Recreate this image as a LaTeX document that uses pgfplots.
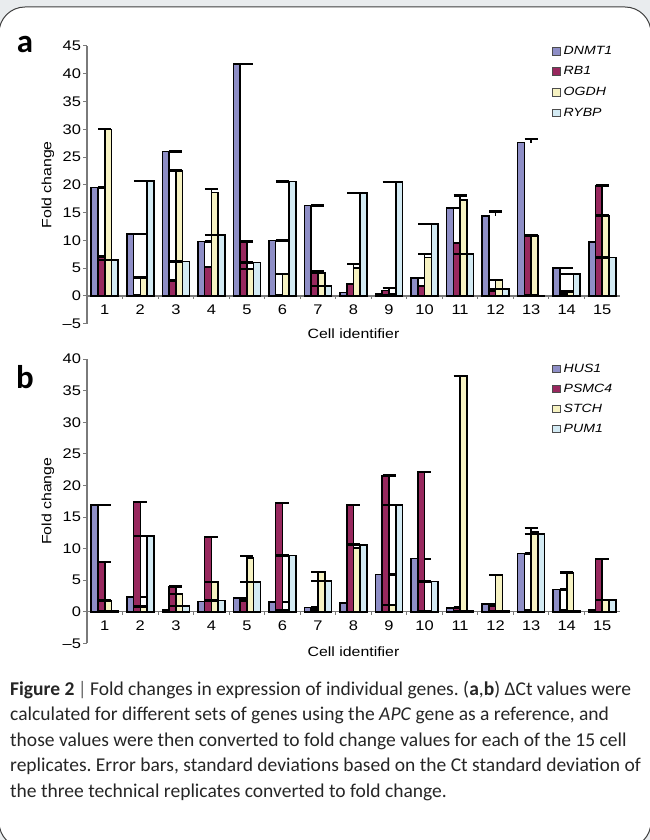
\documentclass[border=0pt]{standalone}
\usepackage{pgfplots}
\pgfplotsset{compat=1.18}
\usepackage{pgfplotstable}
\usepackage{fontspec}
\setmainfont{Liberation Sans}
\newfontfamily\chartfont{Liberation Sans}[FakeStretch=1.18]
\newfontfamily\capfont{Carlito}
\definecolor{lav}{HTML}{8E8EC6}
\definecolor{mag}{HTML}{98285E}
\definecolor{yel}{HTML}{F6F2C2}
\definecolor{blu}{HTML}{D3EAF3}
\definecolor{axg}{HTML}{7A7A7A}
\definecolor{bgg}{HTML}{E9ECEE}

\pgfplotstableread{
x  d    de   r    re   o    oe   y    ye
1  19.5 0    7.1  0    30.0 0    6.5  0
2  11.1 0    0.2  0    3.3  0    20.7 0
3  26.0 0    2.8  0    22.6 0    6.2  0
4  9.8  0    5.2  0    18.6 0.7  11.0 0
5  41.8 0    9.8  0    4.8  0    6.0  0
6  10.0 0    0.2  0    4.0  0    20.6 0
7  16.3 0    4.5  0    4.2  0    1.8  0
8  0.6  0    2.2  0    5.0  0.7  18.5 0
9  0.3  0    1.0  0.4  0.2  0    20.5 0
10 3.2  0    1.8  0    6.9  0.6  12.9 0
11 15.8 0    9.5  0    17.3 0.8  7.5  0
12 14.4 0.8  1.0  0    2.9  0    1.3  0
13 27.6 0.6  11.0 0    10.8 0    0.1  0
14 5.0  0    0.3  0    0.8  0    4.0  0
15 9.7  0    19.9 0    14.5 0    6.9  0
}\tablea

\pgfplotstableread{
x  h    he   p    pe   s    se   u    ue
1  16.9 0    7.9  0    1.8  0    0.1  0
2  2.3  0    17.4 0    0.8  0    12.0 0
3  0.3  0    4.0  0    2.8  0    0.9  0
4  1.6  0    11.8 0    4.7  0    1.8  0
5  2.2  0    1.8  0    8.5  0.3  4.7  0
6  1.5  0    17.2 0    0.2  0    8.9  0
7  0.7  0    0.3  0    6.3  0    4.9  0
8  1.4  0    16.9 0    10.1 0.6  10.6 0
9  5.9  0    21.6 0    1.1  0    16.9 0
10 8.4  0    22.1 0    0.1  0    4.8  0
11 0.6  0    0.7  0    37.3 0    0.1  0
12 1.2  0    1.0  0    5.8  0    0.1  0
13 9.2  0    0.3  0    12.6 0.7  12.3 0
14 3.5  0    0.2  0    6.2  0    0.1  0
15 0.3  0    8.4  0    1.9  0    1.9  0
}\tableb

\pgfplotsset{
  barstyle/.style={ybar, bar width=0.19, draw=black, line width=1.6pt, forget plot,
    error bars/y dir=plus, error bars/y explicit,
    error bars/error bar style={line width=1.6pt, black},
    error bars/error mark options={rotate=90, line width=2.4pt, mark size=6.5bp, black}},
  panel/.style={
    scale only axis, width=533bp,
    xmin=0.5, xmax=15.5,
    axis y line*=left, axis x line*=middle,
    axis line style={axg, line width=1.3pt},
    xtick={1,...,15},
    major x tick style={draw=none},
    minor xtick={1.5,2.5,...,14.5},
    minor tick length=3bp, major tick length=4bp,
    tick style={axg, line width=1pt},
    tick align=outside,
    /pgf/number format/assume math mode=true,
    font=\chartfont\fontsize{14}{16}\selectfont,
    xticklabel style={yshift=-1.5bp},
    yticklabel style={xshift=1.5bp},
    clip=false,
    legend image code/.code={\draw[#1, draw=gray!60!black, line width=0.6pt] (0bp,-3.8bp) rectangle (7.6bp,3.8bp);},
    legend cell align=left,
    legend style={draw=none, fill=none, inner sep=0pt, row sep=10.8bp,
      font=\chartfont\fontsize{12}{13}\selectfont\itshape,
      /tikz/every even column/.append style={column sep=0bp},
      /tikz/every odd column/.append style={column sep=0bp},
      nodes={inner xsep=0pt, inner ysep=0pt},
      /tikz/every even column/.append style={nodes={inner xsep=0pt}}},
  }
}

\begin{document}
\begin{tikzpicture}[x=1bp,y=1bp]
\useasboundingbox (0,0) rectangle (650bp,840bp);
% background and frame
\fill[bgg] (0,0) rectangle (650bp,840bp);
\filldraw[fill=white, draw=black!75, line width=1pt, rounded corners=26bp] (-1bp,-8bp) rectangle (651bp,833bp);

% panel a
\begin{axis}[panel, at={(87bp,516.3bp)}, anchor=south west, height=277.7bp,
  ymin=-5, ymax=45, ytick={-5,0,5,...,45},
  yticklabels={\textendash5,0,5,10,15,20,25,30,35,40,45},
  legend style={at={(axis cs:13.58,45.0)}, anchor=north west}]
\addlegendimage{fill=lav}
\addlegendimage{fill=mag}
\addlegendimage{fill=yel}
\addlegendimage{fill=blu}
\addplot[barstyle, fill=lav, bar shift=-0.285] table[x=x, y=d, y error=de] {\tablea};
\addplot[barstyle, fill=mag, bar shift=-0.095] table[x=x, y=r, y error=re] {\tablea};
\addplot[barstyle, fill=yel, bar shift=0.095] table[x=x, y=o, y error=oe] {\tablea};
\addplot[barstyle, fill=blu, bar shift=0.285] table[x=x, y=y, y error=ye] {\tablea};
\legend{\hspace{3.5bp}DNMT1,\hspace{3.5bp}RB1,\hspace{3.5bp}OGDH,\hspace{3.5bp}RYBP}
\node[anchor=north, font=\chartfont\fontsize{13.5}{15}\selectfont] at (axis cs:8,-5.3) {Cell identifier};
\node[rotate=90, font=\chartfont\fontsize{13.5}{15}\selectfont] at (axis cs:-0.6,20) {Fold change};
\end{axis}

% panel b
\begin{axis}[panel, at={(87bp,196.7bp)}, anchor=south west, height=284.1bp,
  ymin=-5, ymax=40, ytick={-5,0,5,...,40},
  yticklabels={\textendash5,0,5,10,15,20,25,30,35,40},
  legend style={at={(axis cs:13.58,39.3)}, anchor=north west, row sep=10.2bp}]
\addlegendimage{fill=lav}
\addlegendimage{fill=mag}
\addlegendimage{fill=yel}
\addlegendimage{fill=blu}
\addplot[barstyle, fill=lav, bar shift=-0.285] table[x=x, y=h, y error=he] {\tableb};
\addplot[barstyle, fill=mag, bar shift=-0.095] table[x=x, y=p, y error=pe] {\tableb};
\addplot[barstyle, fill=yel, bar shift=0.095] table[x=x, y=s, y error=se] {\tableb};
\addplot[barstyle, fill=blu, bar shift=0.285] table[x=x, y=u, y error=ue] {\tableb};
\legend{\hspace{3.5bp}HUS1,\hspace{3.5bp}PSMC4,\hspace{3.5bp}STCH,\hspace{3.5bp}PUM1}
\node[anchor=north, font=\chartfont\fontsize{13.5}{15}\selectfont] at (axis cs:8,-5.0) {Cell identifier};
\node[rotate=90, font=\chartfont\fontsize{13.5}{15}\selectfont] at (axis cs:-0.6,17.5) {Fold change};
\end{axis}

% panel letters
\node[font=\capfont\bfseries\fontsize{33}{33}\selectfont] at (25bp,795bp) {a};
\node[font=\capfont\bfseries\fontsize{33}{33}\selectfont] at (25bp,463bp) {b};

% caption
\node[anchor=north west, inner sep=0pt, align=left, text=black!85,
  font=\capfont\fontsize{19.6}{25.5}\selectfont] at (10bp,159bp)
{\frenchspacing\textbf{Figure 2}\,{\color{black!60}|}\,Fold changes in expression of individual genes. (\textbf{a},\textbf{b}) ΔCt values were\\
calculated for different sets of genes using the \textit{APC} gene as a reference, and\\
those values were then converted to fold change values for each of the 15 cell\\
replicates.\ Error bars, standard deviations based on the Ct standard deviation of\\
the three technical replicates converted to fold change.};
\end{tikzpicture}
\end{document}
